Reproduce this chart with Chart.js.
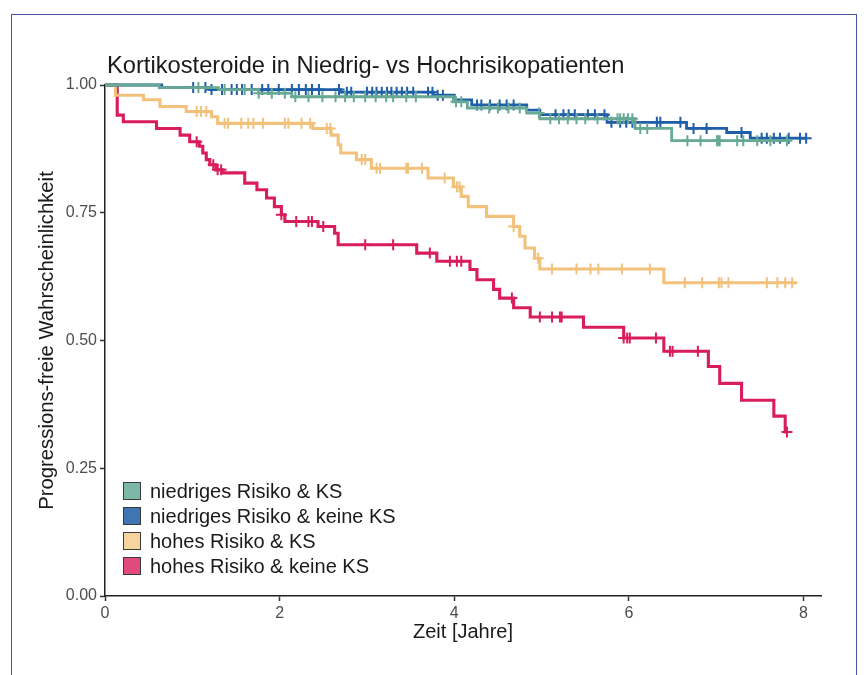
<!DOCTYPE html>
<html>
<head>
<meta charset="utf-8">
<script src="https://cdn.jsdelivr.net/npm/chart.js@4.4.1/dist/chart.umd.min.js"></script>
<style>
  html, body { margin: 0; padding: 0; background: #fff; }
  #wrap { position: relative; width: 864px; height: 675px; overflow: hidden; }
  #frame { position: absolute; left: 11px; top: 14px; width: 846px; height: 700px; border: 1.5px solid #4b4fa3; box-sizing: border-box; }
  #km { position: absolute; left: 0; top: 0; }
</style>
</head>
<body>
<div id="wrap">
  <div id="frame"></div>
  <canvas id="km" width="864" height="675"></canvas>
</div>
<script>
// Kaplan-Meier curves: progression-free probability by risk group and steroid use
const FONT = '"Liberation Sans", Arial, Helvetica, sans-serif';

const chartTitle = 'Kortikosteroide in Niedrig- vs Hochrisikopatienten';
const groupNames = ['niedriges Risiko & KS', 'niedriges Risiko & keine KS', 'hohes Risiko & KS', 'hohes Risiko & keine KS'];
const lineColors = ['#68a996', '#1f5ea8', '#f2c27c', '#d91d5c'];
const keyColors = ['#7db7a7', '#3e76b3', '#f6d49e', '#e14a7b'];

const xTicks = [0, 2, 4, 6, 8];
const yTicks = [0, 0.25, 0.5, 0.75, 1];

// low risk, with KS
const lowKsTimes = [0, 0.62, 1.3, 1.76, 2.14, 3.99, 4.15, 4.83, 4.98, 6.07, 6.49];
const lowKsSurv  = [1, 0.995, 0.991, 0.984, 0.977, 0.967, 0.955, 0.945, 0.934, 0.915, 0.891];
const lowKsEnd = 7.85;
const lowKsCensor = [1.07, 1.37, 1.6, 1.76, 1.91, 2.06, 2.18, 2.33, 2.49, 2.64, 2.75, 2.85, 2.98, 3.1, 3.22, 3.3, 3.45, 3.56,
  4.02, 4.08, 4.4, 4.5, 4.62, 4.75, 4.97, 5.1, 5.2, 5.3, 5.4, 5.5, 5.64, 5.87, 5.9, 5.94, 5.99, 6.04, 6.13, 6.21,
  6.67, 6.82, 7.01, 7.02, 7.04, 7.24, 7.31, 7.47, 7.62, 7.81];

// low risk, no KS
const lowNoTimes = [0, 0.65, 1.2, 2.7, 3.76, 4.0, 4.2, 4.83, 4.98, 5.75, 6.66, 7.12, 7.39];
const lowNoSurv  = [1, 0.995, 0.991, 0.986, 0.98, 0.971, 0.961, 0.951, 0.942, 0.927, 0.915, 0.907, 0.896];
const lowNoEnd = 8.03;
const lowNoCensor = [1.01, 1.15, 1.22, 1.34, 1.45, 1.51, 1.57, 1.68, 1.8, 1.87, 1.99, 2.14, 2.22, 2.3, 2.37, 2.45, 2.68,
  2.77, 2.82, 3.0, 3.06, 3.11, 3.17, 3.23, 3.28, 3.34, 3.4, 3.46, 3.53, 3.7, 3.75, 3.81, 3.87,
  4.26, 4.31, 4.41, 4.52, 4.6, 4.68, 5.16, 5.25, 5.31, 5.38, 5.53, 5.61, 5.72, 5.8, 5.9, 5.97, 6.04,
  6.32, 6.36, 6.59, 6.74, 6.89, 7.29, 7.52, 7.58, 7.66, 7.73, 7.83, 7.96, 8.03];

// high risk, with KS
const highKsTimes = [0, 0.12, 0.44, 0.63, 0.93, 1.22, 1.29, 2.38, 2.59, 2.67, 2.7, 2.88, 3.05, 3.7, 3.99, 4.08, 4.16,
  4.37, 4.68, 4.75, 4.81, 4.92, 4.98, 6.4];
const highKsSurv  = [1, 0.98, 0.971, 0.958, 0.948, 0.938, 0.925, 0.915, 0.902, 0.883, 0.867, 0.854, 0.837, 0.818, 0.801,
  0.782, 0.762, 0.743, 0.723, 0.704, 0.681, 0.661, 0.64, 0.613];
const highKsEnd = 7.92;
const highKsCensor = [1.05, 1.1, 1.16, 1.37, 1.41, 1.56, 1.64, 1.7, 1.81, 2.06, 2.1, 2.25, 2.35, 2.54, 2.58, 2.94, 2.98,
  3.11, 3.15, 3.45, 3.47, 3.63, 3.89, 4.03, 4.06, 4.68, 4.96, 5.12, 5.4, 5.56, 5.65, 5.92, 6.24,
  6.64, 6.84, 7.03, 7.06, 7.14, 7.58, 7.7, 7.79, 7.87];

// high risk, no KS
const highNoTimes = [0, 0.14, 0.21, 0.59, 0.86, 0.97, 1.08, 1.12, 1.16, 1.2, 1.27, 1.35, 1.6, 1.74, 1.85, 1.94, 2.02,
  2.06, 2.44, 2.63, 2.67, 3.57, 3.8, 4.18, 4.26, 4.45, 4.52, 4.68, 4.87, 5.48, 5.94, 6.4, 6.91, 7.04, 7.29, 7.66, 7.79];
const highNoSurv  = [1, 0.941, 0.928, 0.915, 0.902, 0.889, 0.88, 0.867, 0.854, 0.844, 0.834, 0.828, 0.808, 0.795, 0.779,
  0.762, 0.746, 0.733, 0.723, 0.71, 0.6875, 0.671, 0.655, 0.639, 0.619, 0.6, 0.583, 0.564, 0.546, 0.526, 0.505,
  0.479, 0.449, 0.416, 0.383, 0.352, 0.321];
const highNoEnd = 7.81;
const highNoCensor = [1.05, 1.24, 1.29, 1.33, 2.02, 2.19, 2.33, 2.37, 2.5, 2.98, 3.3, 3.72, 3.95, 4.03, 4.08, 4.66,
  4.98, 5.12, 5.21, 5.23, 5.94, 5.98, 6.01, 6.31, 6.47, 6.5, 6.79, 7.81];

const groups = [
  { times: lowKsTimes, surv: lowKsSurv, end: lowKsEnd, censor: lowKsCensor, width: 2.8 },
  { times: lowNoTimes, surv: lowNoSurv, end: lowNoEnd, censor: lowNoCensor, width: 2.8 },
  { times: highKsTimes, surv: highKsSurv, end: highKsEnd, censor: highKsCensor, width: 3.1 },
  { times: highNoTimes, surv: highNoSurv, end: highNoEnd, censor: highNoCensor, width: 3.1 }
];

function survAt(times, surv, t) {
  let s = surv[0];
  for (let i = 0; i < times.length; i++) {
    if (times[i] <= t) s = surv[i];
  }
  return s;
}

const datasets = [];
groups.forEach((g, i) => {
  const steps = g.times.map((t, k) => ({ x: t, y: g.surv[k] }));
  steps.push({ x: g.end, y: g.surv[g.surv.length - 1] });
  const marks = g.censor.map(t => ({ x: t, y: survAt(g.times, g.surv, t) }));

  datasets.push({
    label: groupNames[i] + ' (zensiert)',
    data: marks,
    showLine: false,
    pointStyle: 'cross',
    pointRadius: 5.5,
    pointBorderWidth: 2,
    borderColor: lineColors[i],
    backgroundColor: lineColors[i],
    clip: false,
    order: i * 2
  });
  datasets.push({
    label: groupNames[i],
    data: steps,
    stepped: 'before',
    borderColor: lineColors[i],
    borderWidth: g.width,
    pointRadius: 0,
    fill: false,
    clip: false,
    order: i * 2 + 1
  });
});

const titlePlugin = {
  id: 'plotTitle',
  afterDraw(chart) {
    const ctx = chart.ctx;
    ctx.save();
    ctx.font = '23.7px ' + FONT;
    ctx.fillStyle = '#1a1a1a';
    ctx.textBaseline = 'alphabetic';
    ctx.textAlign = 'left';
    ctx.fillText(chartTitle, chart.chartArea.left + 2, 73);
    ctx.restore();
  }
};

// legend keys drawn inside the panel, lower left
const keyLegend = {
  id: 'keyLegend',
  afterDraw(chart) {
    const ctx = chart.ctx;
    const left = chart.chartArea.left + 18;
    ctx.save();
    ctx.font = '20px ' + FONT;
    ctx.textBaseline = 'middle';
    ctx.textAlign = 'left';
    groupNames.forEach((name, i) => {
      const cy = 491 + i * 25;
      ctx.fillStyle = keyColors[i];
      ctx.fillRect(left, cy - 9, 18, 18);
      ctx.strokeStyle = '#3a3a3a';
      ctx.lineWidth = 1;
      ctx.strokeRect(left + 0.5, cy - 8.5, 17, 17);
      ctx.fillStyle = '#1a1a1a';
      ctx.fillText(name, left + 27, cy + 1);
    });
    ctx.restore();
  }
};

new Chart(document.getElementById('km').getContext('2d'), {
  type: 'line',
  data: { datasets },
  options: {
    responsive: false,
    animation: false,
    events: [],
    layout: { padding: { left: 20, right: 43, top: 85, bottom: 31 } },
    plugins: { legend: { display: false }, tooltip: { enabled: false }, title: { display: false } },
    scales: {
      x: {
        type: 'linear',
        min: 0,
        max: 8.2,
        afterFit: s => { s.height = 48; },
        afterBuildTicks: s => { s.ticks = xTicks.map(v => ({ value: v })); },
        grid: { drawOnChartArea: false, drawTicks: true, tickLength: 5, tickColor: '#333', tickWidth: 1.5 },
        border: { display: true, color: '#222', width: 1.5 },
        ticks: { padding: 3, color: '#4d4d4d', font: { size: 16, family: FONT }, maxRotation: 0, callback: v => String(v) },
        title: { display: true, text: 'Zeit [Jahre]', color: '#1a1a1a', font: { size: 20, family: FONT }, padding: { top: 0, bottom: 0 } }
      },
      y: {
        type: 'linear',
        min: 0,
        max: 1,
        afterFit: s => { s.width = 85; },
        afterBuildTicks: s => { s.ticks = yTicks.map(v => ({ value: v })); },
        grid: { drawOnChartArea: false, drawTicks: true, tickLength: 5, tickColor: '#333', tickWidth: 1.5 },
        border: { display: true, color: '#222', width: 1.5 },
        ticks: { padding: 3, color: '#4d4d4d', font: { size: 16, family: FONT }, callback: v => v.toFixed(2) },
        title: { display: true, text: 'Progressions-freie Wahrscheinlichkeit', color: '#1a1a1a', font: { size: 20.3, family: FONT }, padding: { top: 15, bottom: 0 } }
      }
    }
  },
  plugins: [titlePlugin, keyLegend]
});
</script>
</body>
</html>
